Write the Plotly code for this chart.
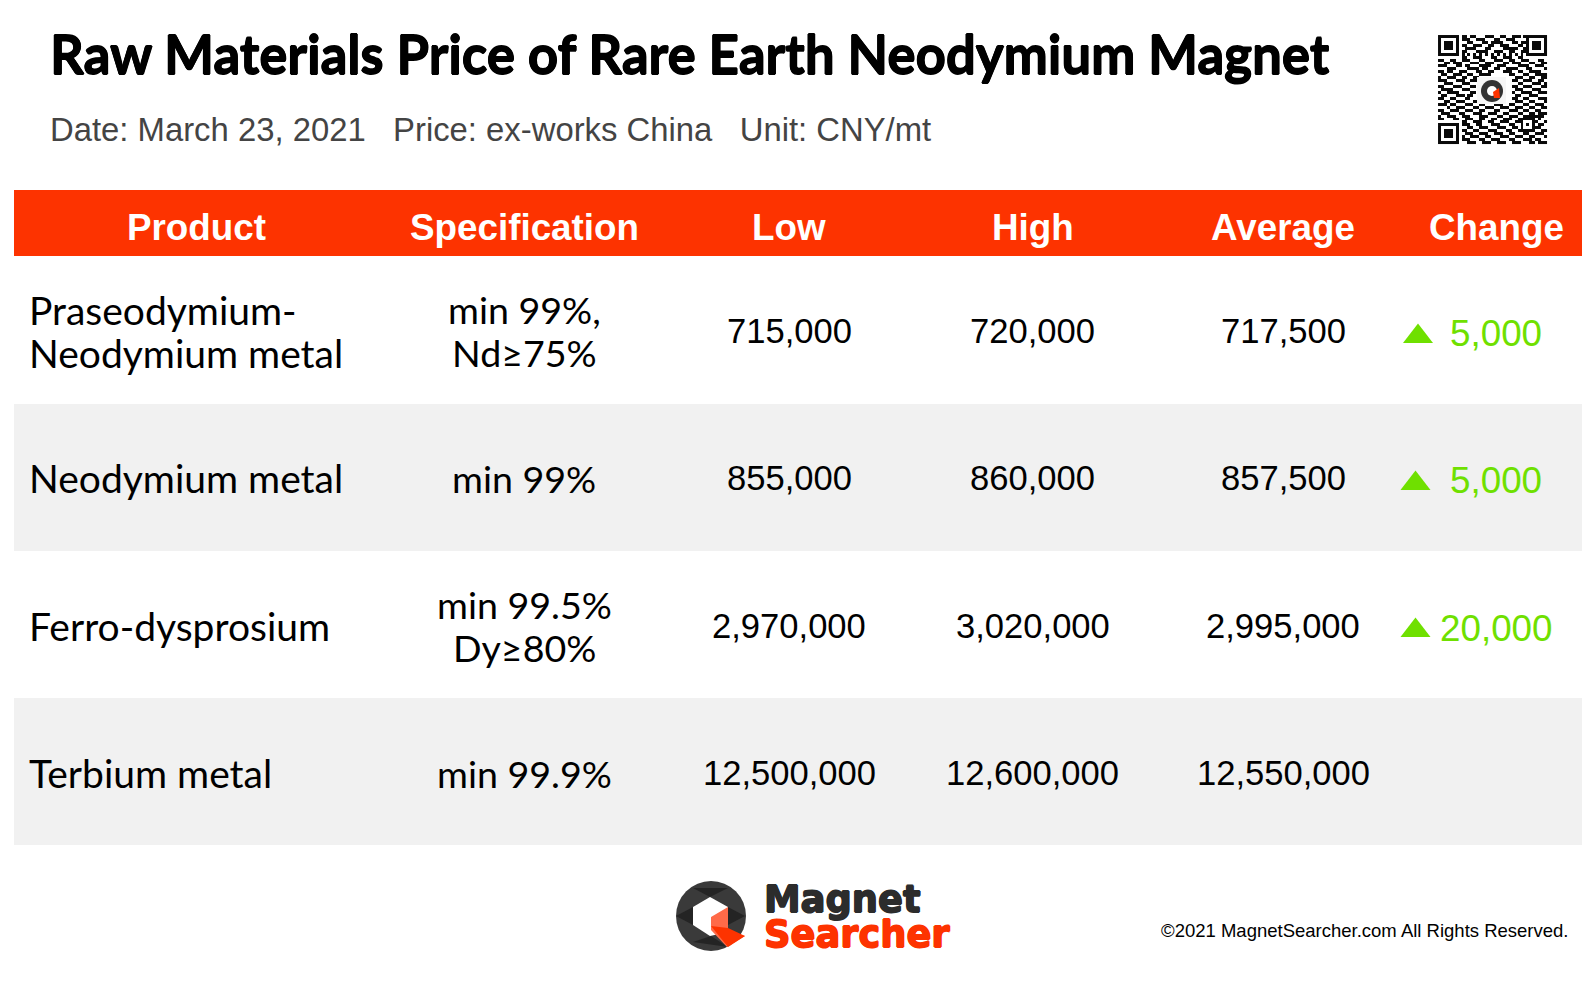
import plotly.graph_objects as go

TITLE = "Raw Materials Price of Rare Earth Neodymium Magnet"
SUBTITLE = "Date: March 23, 2021   Price: ex-works China   Unit: CNY/mt"
HEADERS = ["Product", "Specification", "Low", "High", "Average", "Change"]
PRODUCTS = [["Praseodymium-", "Neodymium metal"], ["Neodymium metal"], ["Ferro-dysprosium"], ["Terbium metal"]]
SPECS = [["min 99%,", "Nd≥75%"], ["min 99%"], ["min 99.5%", "Dy≥80%"], ["min 99.9%"]]
LOW = [715000, 855000, 2970000, 12500000]
HIGH = [720000, 860000, 3020000, 12600000]
AVERAGE = [717500, 857500, 2995000, 12550000]
CHANGE = [5000, 5000, 20000, None]
COPYRIGHT = "©2021 MagnetSearcher.com All Rights Reserved."
QR = [
"1111111" + "01101100011100110011101" + "1111111",
"1000001" + "01110011100011001110000" + "1000001",
"1011101" + "00011000110111100011011" + "1011101",
"1011101" + "01100111001100111000110" + "1011101",
"1011101" + "00111100011000011111001" + "1011101",
"1000001" + "01100011110011100110011" + "1000001",
"1111111" + "01010101010101010101010" + "1111111",
"00000000" + "110011100011001110011" + "00000000",
"1100110011100011000111001100111000110",
"0011011100011100111000110111000110011",
"1110001101100011110011100001111001110",
"0001110000111101100110011110001100001",
"1101100111000110011000111001100111100",
"0110011100110011110000001100011001111",
"1001110011001100000000000011100110011",
"1110001110011100000000000110011100110",
"0011100011100000000000000001100011101",
"1100011100011000000000000110011100011",
"0111100011100000000000000011100011100",
"1001111000011000000000000100111100111",
"0110001110110000000000000011000111000",
"1100110001100000000000000110011000111",
"0011001110001100000001100011100110001",
"1110110001110011000111001100011001110",
"0001001110001100111001110011100110011",
"1100111001110011000110001110011001100",
"0111000110001110011100110001100110111",
"1001110011100011100011001110011111110",
"1100011001110011001100111001" + "11111" + "0100",
"00000000" + "11001110011001110011" + "10001" + "1001",
"1111111" + "0" + "11100110001110001100" + "10101" + "0110",
"1000001" + "0" + "00110011100011100110" + "10001" + "1100",
"1011101" + "0" + "11001100011100011001" + "11111" + "0011",
"1011101" + "0" + "01110011100111001100" + "01100" + "1110",
"1011101" + "0" + "10011100110001110011" + "10011" + "0001",
"1000001" + "0" + "11100011001110001100" + "01110" + "1100",
"1111111" + "0" + "00111001110011100111" + "00011" + "0111",
]

INK = "#000000"; ORANGE = "#fd3300"; GREEN = "#6fe000"; GRAY = "#444444"; BAND = "#f1f1f1"
SANS = "Liberation Sans"; GEO = "Lato"
COLS = dict(spec=524, low=789, high=1032.5, avg=1283, chg=1496)
ROW_Y = [331, 478, 626, 773]

fig = go.Figure()
def rect(x0, y0, x1, y1, c):
    fig.add_shape(type="rect", x0=x0, y0=y0, x1=x1, y1=y1, fillcolor=c, line_width=0, layer="below")
def txt(x, y, s, size, color=INK, font=SANS, anchor="center", bold=False, stroke=0):
    f = dict(family=font, size=size, color=color)
    if stroke:
        f["shadow"] = f"{stroke}px 0 0 {color}, -{stroke}px 0 0 {color}, 0 {stroke}px 0 {color}, 0 -{stroke}px 0 {color}"
    fig.add_annotation(x=x, y=y, text=f"<b>{s}</b>" if bold else s, showarrow=False, xanchor=anchor, yanchor="middle",
                       font=f, xref="x", yref="y")
def poly(pts, c):
    p = "M" + "L".join(f"{a},{b}" for a, b in pts) + "Z"
    fig.add_shape(type="path", path=p, fillcolor=c, line_width=0, layer="above")

rect(14, 190, 1582, 256, ORANGE)
rect(14, 404, 1582, 551, BAND)
rect(14, 698, 1582, 845, BAND)

txt(48, 53, TITLE, 52.8, font=GEO, anchor="left", bold=True, stroke=0.6)
txt(48, 129, SUBTITLE, 32.85, color=GRAY, anchor="left")

hx = [196, COLS["spec"], COLS["low"], COLS["high"], COLS["avg"], COLS["chg"]]
for x, h in zip(hx, HEADERS):
    txt(x, 227, h, 36.8, color="white", bold=True)

LH = 43
for i, y in enumerate(ROW_Y):
    for lines, x, anc, sz in ((PRODUCTS[i], 27, "left", 39), (SPECS[i], COLS["spec"], "center", 37.6)):
        y0 = y - LH * (len(lines) - 1) / 2
        for k, s in enumerate(lines):
            txt(x, y0 + k * LH, s, sz, font=GEO, anchor=anc)
    txt(COLS["low"], y, f"{LOW[i]:,}", 34.6)
    txt(COLS["high"], y, f"{HIGH[i]:,}", 34.6)
    txt(COLS["avg"], y, f"{AVERAGE[i]:,}", 34.6)
    if CHANGE[i] is not None:
        txt(COLS["chg"], y + 2, f"{CHANGE[i]:,}", 36.8, color=GREEN)

tri_x = [1418, 1415.5, 1415.5]
tri_y = [336.5, 483.5, 630.5]
fig.add_trace(go.Scatter(x=tri_x, y=tri_y, mode="markers", hoverinfo="skip",
                         marker=dict(symbol="triangle-up", size=26, color=GREEN, line_width=0)))

fig.add_trace(go.Heatmap(z=[[int(c) for c in r] for r in QR], x0=1439.5, dx=2.95, y0=36.5, dy=2.95,
                         colorscale=[[0, "white"], [1, "#0a0a0a"]], showscale=False, hoverinfo="skip"))
fig.add_shape(type="rect", x0=1477, y0=77, x1=1506, y1=104, fillcolor="#f6f6f6", line_width=0, layer="above")
fig.add_shape(type="circle", x0=1481, y0=80, x1=1503, y1=102, fillcolor="#333333", line_width=0, layer="above")
fig.add_shape(type="circle", x0=1487, y0=86, x1=1497, y1=96, fillcolor="white", line_width=0, layer="above")
poly([(1493, 92), (1499, 88), (1500, 98), (1494, 98)], ORANGE)

# logo
fig.add_shape(type="circle", x0=676, y0=881, x1=746, y1=951, fillcolor="#3a3a3a", line_width=0, layer="above")
for tri in ([(693, 888), (728, 888), (710, 897)], [(676, 916), (693, 907), (693, 925)],
            [(693, 942), (711, 936), (728, 947)], [(728, 907), (745, 916), (728, 925)]):
    poly(tri, "#242424")
poly([(710, 897), (728, 907), (728, 932), (710, 936), (693, 925), (693, 907)], "white")
poly([(711, 917), (728, 907), (728, 932), (745, 936), (727, 947), (711, 930)], "#ff6a48")
poly([(711, 926), (728, 928), (745, 936), (728, 947)], ORANGE)
txt(762, 899, "Magnet", 36.8, color="#2c2c2c", font="DejaVu Sans", anchor="left", bold=True, stroke=0.8)
txt(762, 934, "Searcher", 36.8, color=ORANGE, font="DejaVu Sans", anchor="left", bold=True, stroke=0.8)
txt(1570, 930, COPYRIGHT, 18.5, anchor="right")

fig.update_layout(width=1595, height=981, margin=dict(l=0, r=0, t=0, b=0), paper_bgcolor="white", plot_bgcolor="white",
                  showlegend=False,
                  xaxis=dict(range=[0, 1595], visible=False, fixedrange=True),
                  yaxis=dict(range=[981, 0], visible=False, fixedrange=True))
fig.write_html("out.html", post_script="document.body.style.margin='0';", config={"displayModeBar": False})
